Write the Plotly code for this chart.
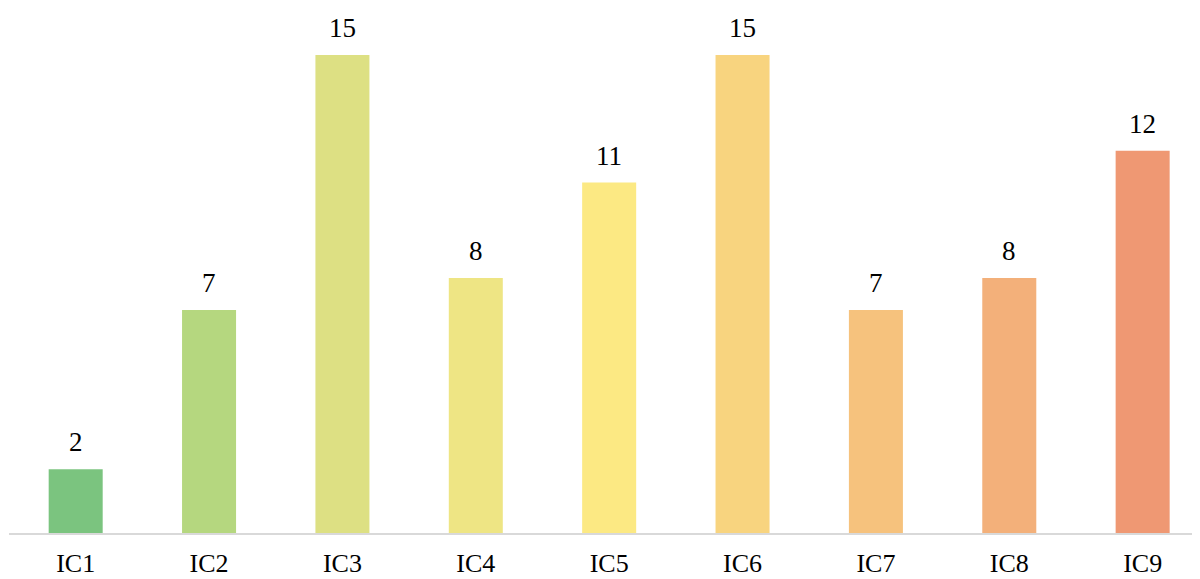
import plotly.graph_objects as go

categories = ["IC1", "IC2", "IC3", "IC4", "IC5", "IC6", "IC7", "IC8", "IC9"]
values = [2, 7, 15, 8, 11, 15, 7, 8, 12]
colors = ["#7BC47F", "#B5D77F", "#DDE083", "#EEE584", "#FCE983",
          "#F8D47F", "#F6C27D", "#F3B07A", "#EF9873"]

FONT = "Liberation Serif"

fig = go.Figure(go.Bar(
    x=categories, y=values, marker_color=colors, marker_line_width=0,
    width=0.405, hoverinfo="x+y",
))
for c, v in zip(categories, values):
    fig.add_annotation(x=c, y=v, text=str(v), showarrow=False, yanchor="bottom",
                       yshift=10, font=dict(size=27, color="#000000", family=FONT))
fig.update_layout(
    width=1200, height=579, margin=dict(l=1, r=8, t=12, b=54),
    paper_bgcolor="white", plot_bgcolor="white", showlegend=False,
    font=dict(family=FONT, size=27, color="#000000"),
    xaxis=dict(range=[-0.5, 8.43], showline=True, linecolor="#D9D9D9", linewidth=2,
               showgrid=False, ticks="outside", ticklen=6, tickcolor="rgba(0,0,0,0)",
               tickfont=dict(size=26)),
    yaxis=dict(range=[0, 16.1], visible=False, showgrid=False),
)
fig.write_html("out.html")
